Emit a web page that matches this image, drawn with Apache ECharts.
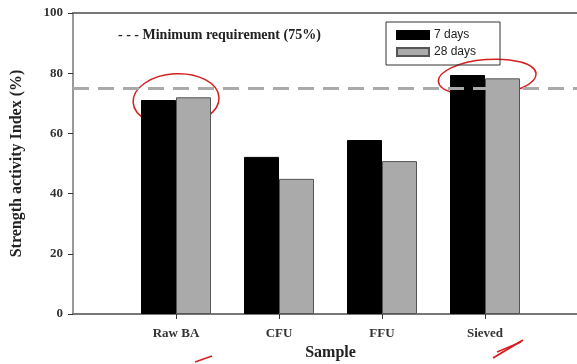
<!DOCTYPE html>
<html><head><meta charset="utf-8">
<script src="https://cdn.jsdelivr.net/npm/echarts@6/dist/echarts.min.js"></script>
<style>html,body{margin:0;padding:0;background:#fff}#c{width:577px;height:364px}</style>
</head><body><div id="c"></div>
<script>
const categories = ['', 'Raw BA', 'CFU', 'FFU', 'Sieved', ''];
const days7 = [null, 71.1, 52.2, 57.8, 79.4, null];
const days28 = [null, 72.0, 44.9, 50.8, 78.3, null];
const yTicks = [0, 20, 40, 60, 80, 100];
const minimumRequirement = 75;
const seriesNames = ['7 days', '28 days'];

const chart = echarts.init(document.getElementById('c'), null, {renderer: 'canvas'});
const serif = '"Liberation Serif", "Times New Roman", serif';
chart.setOption({
  animation: false,
  backgroundColor: '#fff',
  grid: {left: 73, top: 13, bottom: 50, right: -11, containLabel: false, outerBoundsMode: 'none'},
  legend: {
    left: 386, top: 22, orient: 'vertical',
    data: seriesNames,
    borderColor: '#333', borderWidth: 1, padding: [7, 24, 7, 10],
    itemWidth: 32, itemHeight: 8, itemGap: 5,
    textStyle: {fontFamily: '"Liberation Sans", Arial, sans-serif', fontSize: 12, color: '#222'},
    icon: 'rect'
  },
  xAxis: [{
    type: 'category', data: categories, boundaryGap: false,
    axisLine: {lineStyle: {color: '#777', width: 2}},
    axisTick: {show: true, length: 5, lineStyle: {color: '#333'},
      interval: function (i, v) { return v !== ''; }},
    axisLabel: {interval: 0, fontFamily: serif, fontWeight: 'bold', fontSize: 13, color: '#333', margin: 13},
    name: 'Sample', nameLocation: 'middle', nameGap: 30,
    nameTextStyle: {fontFamily: serif, fontWeight: 'bold', fontSize: 16, color: '#222'},
    splitLine: {show: false}
  }, {
    type: 'category', data: categories, boundaryGap: false, position: 'top',
    axisLine: {lineStyle: {color: '#777', width: 2}},
    axisTick: {show: false}, axisLabel: {show: false}
  }],
  yAxis: {
    type: 'value', min: yTicks[0], max: yTicks[yTicks.length - 1], interval: 20,
    axisLine: {show: true, lineStyle: {color: '#999', width: 2}},
    axisTick: {show: true, length: 5, lineStyle: {color: '#333'}},
    axisLabel: {fontFamily: serif, fontWeight: 'bold', fontSize: 13, color: '#333', margin: 10},
    splitLine: {show: false},
    name: 'Strength activity Index (%)', nameLocation: 'middle', nameGap: 48,
    nameTextStyle: {fontFamily: serif, fontWeight: 'bold', fontSize: 16, color: '#222'}
  },
  series: [{
    name: seriesNames[0], type: 'bar', data: days7, barWidth: 35, barGap: '0%',
    itemStyle: {color: '#000', borderColor: '#000', borderWidth: 1},
    markLine: {
      silent: true, symbol: 'none', label: {show: false},
      lineStyle: {color: '#aaa', width: 3, type: [16, 9]},
      data: [{yAxis: minimumRequirement}]
    }
  }, {
    name: seriesNames[1], type: 'bar', data: days28, barWidth: 35,
    itemStyle: {color: '#aaa', borderColor: '#555', borderWidth: 1}
  }]
});

function px(c, v) { return chart.convertToPixel({xAxisIndex: 0, yAxisIndex: 0}, [c, v]); }
const p1 = px(1, 71.5), p2 = px(4, 79.5), b1 = px(1, 0), b4 = px(4, 0);
chart.setOption({
  graphic: [
    {type: 'text', left: 118, top: 28, style: {text: '- - - Minimum requirement (75%)', font: 'bold 14px ' + serif, fill: '#222'}},
    {type: 'ellipse', shape: {cx: p1[0], cy: p1[1] + 1, rx: 43, ry: 26}, rotation: 0.06, originX: p1[0], originY: p1[1],
      style: {fill: 'none', stroke: '#d42020', lineWidth: 1.5}},
    {type: 'ellipse', shape: {cx: p2[0] + 2, cy: p2[1] + 3, rx: 49, ry: 18}, rotation: 0.08, originX: p2[0], originY: p2[1],
      style: {fill: 'none', stroke: '#d42020', lineWidth: 1.5}},
    {type: 'line', shape: {x1: b1[0] + 19, y1: b1[1] + 48, x2: b1[0] + 36, y2: b1[1] + 42}, style: {stroke: '#d42020', lineWidth: 1.5}},
    {type: 'line', shape: {x1: b4[0] + 8, y1: b4[1] + 44, x2: b4[0] + 38, y2: b4[1] + 26}, style: {stroke: '#d42020', lineWidth: 2}},
    {type: 'line', shape: {x1: b4[0] + 12, y1: b4[1] + 38, x2: b4[0] + 36, y2: b4[1] + 28}, style: {stroke: '#d42020', lineWidth: 1.5}}
  ]
});
</script></body></html>
